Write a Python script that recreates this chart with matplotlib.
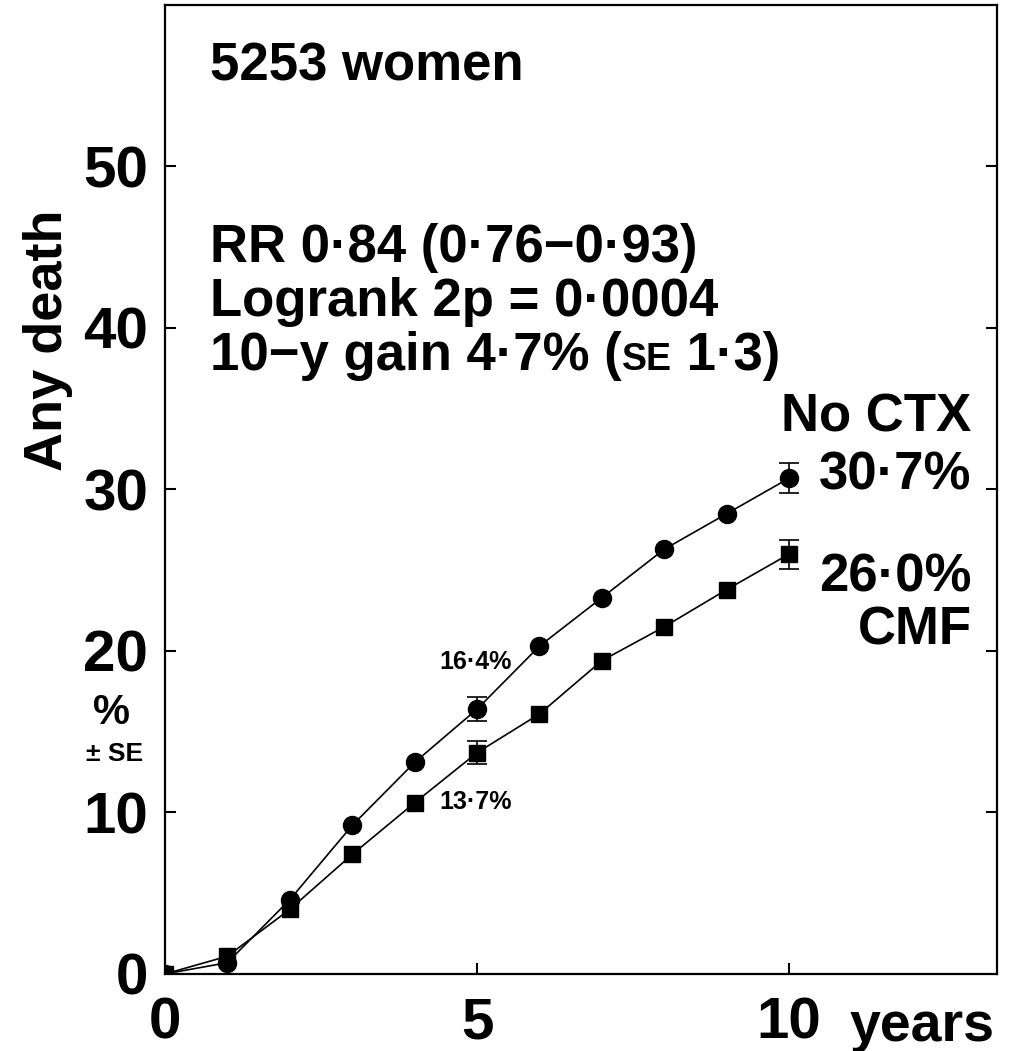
import matplotlib
matplotlib.use('Agg')
import matplotlib.pyplot as plt

plt.rcParams['font.family'] = ['Liberation Sans', 'DejaVu Sans']
plt.rcParams['font.weight'] = 'bold'

# data
years = [0, 1, 2, 3, 4, 5, 6, 7, 8, 9, 10]
no_ctx = [0, 0.7, 4.6, 9.2, 13.1, 16.4, 20.3, 23.3, 26.3, 28.5, 30.7]
cmf = [0, 1.1, 4.0, 7.4, 10.6, 13.7, 16.1, 19.4, 21.5, 23.8, 26.0]
se_years = [5, 10]
no_ctx_se = [0.75, 0.95]
cmf_se = [0.7, 0.9]
yticks = [0, 10, 20, 30, 40, 50]
xticks = [0, 5, 10]

fig = plt.figure(figsize=(10.16, 10.51), dpi=100)
ax = fig.add_axes([0.1624, 0.0733, 0.8189, 0.922])

ax.plot(years, no_ctx, color='black', lw=1.2, marker='o', ms=13, zorder=3)
ax.plot(years, cmf, color='black', lw=1.2, marker='s', ms=11.5, zorder=3)
ax.errorbar(se_years, [no_ctx[5], no_ctx[10]], yerr=no_ctx_se, fmt='none',
            ecolor='black', elinewidth=1.2, capsize=7, capthick=1.2)
ax.errorbar(se_years, [cmf[5], cmf[10]], yerr=cmf_se, fmt='none',
            ecolor='black', elinewidth=1.2, capsize=7, capthick=1.2)

ax.set_xlim(0, 13.33)
ax.set_ylim(0, 60)
ax.set_xticks(xticks)
ax.set_yticks(yticks)
ax.set_xticklabels([str(v) for v in xticks], fontsize=42, fontweight='bold')
ax.set_yticklabels([str(v) for v in yticks], fontsize=42, fontweight='bold')
ax.tick_params(axis='both', direction='in', length=8, width=1.5)
ax.tick_params(axis='y', right=True, pad=12)
ax.tick_params(axis='x', pad=16)
# no tick marks at zero
for t in ax.yaxis.get_major_ticks()[:1] + ax.xaxis.get_major_ticks()[:1]:
    t.tick1line.set_visible(False)
    t.tick2line.set_visible(False)
for s in ax.spines.values():
    s.set_linewidth(1.6)

big = 38
ax.text(0.72, 55.3, '5253 women', fontsize=big, fontweight='bold', va='baseline')
ax.text(0.72, 44.1, 'RR 0·84 (0·76\u22120·93)', fontsize=big, fontweight='bold', va='baseline')
ax.text(0.72, 40.75, 'Logrank 2p = 0·0004', fontsize=big, fontweight='bold', va='baseline')

# third line has a small-caps "SE" in it
renderer = fig.canvas.get_renderer()
inv = ax.transData.inverted()
parts = [('10\u2212y gain 4·7% (', big), ('SE', 27), (' 1·3)', big)]
x = 0.72
for s, fs in parts:
    t = ax.text(x, 37.4, s, fontsize=fs, fontweight='bold', va='baseline')
    bb = t.get_window_extent(renderer)
    x = inv.transform((bb.x1, bb.y0))[0]

ax.text(12.92, 33.6, 'No CTX', fontsize=big, fontweight='bold', ha='right', va='baseline')
ax.text(12.92, 30.0, '30·7%', fontsize=big, fontweight='bold', ha='right', va='baseline')
ax.text(12.92, 23.7, '26·0%', fontsize=big, fontweight='bold', ha='right', va='baseline')
ax.text(12.92, 20.4, 'CMF', fontsize=big, fontweight='bold', ha='right', va='baseline')

ax.text(4.4, 19.3, '16·4%', fontsize=18, fontweight='bold', va='center')
ax.text(4.4, 10.65, '13·7%', fontsize=18, fontweight='bold', va='center')

fig.text(0.047, 0.676, 'Any death', fontsize=39, fontweight='bold', rotation=90,
         ha='center', va='center')
fig.text(111 / 1016, 1 - 713 / 1051, '%', fontsize=30, fontweight='bold', ha='center', va='center')
fig.text(115 / 1016, 1 - 754 / 1051, '± SE', fontsize=19, fontweight='bold', ha='center', va='center')

# 'years' sits beside the last x tick label
fig.text(995 / 1016, 1 - 1041 / 1051, 'years', fontsize=40, fontweight='bold',
         ha='right', va='baseline')

fig.savefig('out.png', dpi=100)
